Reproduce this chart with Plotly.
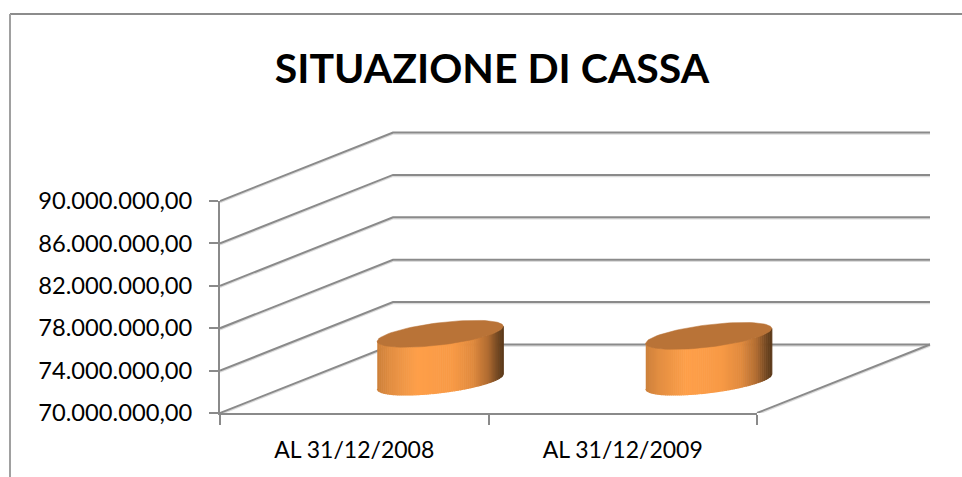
import numpy as np
import plotly.graph_objects as go

# ---- data ----
categories = ["AL 31/12/2008", "AL 31/12/2009"]
values = [74500000, 74300000]
y_ticks = [70000000, 74000000, 78000000, 82000000, 86000000, 90000000]
title_text = "SITUAZIONE DI CASSA"

# ---- layout in pixels ----
W, H = 962, 477
L, R, B, T = 220, 757, 413, 201      # plot front plane
XMIN, XMAX = 0, len(categories)
YMIN, YMAX = 70000000, 90000000
px_x = (XMAX - XMIN) / (R - L)       # data per pixel
px_y = (YMAX - YMIN) / (B - T)
DEPTH_X, DEPTH_Y = 173 * px_x, 68.5 * px_y
BASE_X, BASE_Y = 86 * px_x, 31.5 * px_y
RAD_X, SHEAR, RAD_Y = 63 * px_x, 7.5 * px_y, 11.2 * px_y

# second axis pair shares the same scale, but extends up and right
OV_R, OV_T = 960, 60
ov_xrange = [XMIN, XMIN + (OV_R - L) * px_x]
ov_yrange = [YMIN, YMIN + (B - OV_T) * px_y]

GRID = "#8a8a8a"
SHADOW = "#dcdcdc"
TOP = "#b97337"
STOPS = [(0.0, (205, 128, 58)), (0.1, (226, 142, 66)), (0.32, (255, 160, 74)),
         (0.6, (248, 154, 70)), (0.76, (224, 138, 62)), (0.88, (176, 108, 50)),
         (0.95, (120, 75, 35)), (1.0, (88, 55, 25))]

def shade(t):
    xs = [s[0] for s in STOPS]
    return "rgb(%d,%d,%d)" % tuple(np.interp(t, xs, [s[1][i] for s in STOPS]) for i in range(3))

fig = go.Figure()

# invisible carrier of the data on the main axes
fig.add_trace(go.Scatter(x=[i + 0.5 for i in range(len(values))], y=values, mode="markers",
                         marker=dict(opacity=0, size=1), showlegend=False, hoverinfo="skip"))

def ov_line(xs, ys, color, width):
    fig.add_trace(go.Scatter(x=xs, y=ys, mode="lines", xaxis="x2", yaxis="y2",
                             line=dict(color=color, width=width), showlegend=False,
                             hoverinfo="skip"))

# perspective grid: a soft shadow, then the line
for color, width, off in ((SHADOW, 1.5, 1.5 * px_y), (GRID, 2, 0)):
    for v in y_ticks:
        ov_line([XMIN, XMIN + DEPTH_X, XMAX + DEPTH_X],
                [v - off, v + DEPTH_Y - off, v + DEPTH_Y - off], color, width)
    ov_line([XMAX, XMAX + DEPTH_X], [YMIN - off, YMIN + DEPTH_Y - off], color, width)

# cylinders
N = 64
for i, v in enumerate(values):
    cx = i + 0.5 + BASE_X
    base = YMIN + BASE_Y
    top = base + (v - YMIN)
    edges = np.linspace(-1, 1, N + 1)
    for k in range(N):
        u = np.linspace(edges[k], edges[k + 1], 3)
        xs = cx + RAD_X * u
        arc = RAD_Y * np.sqrt(np.clip(1 - u ** 2, 0, 1))
        y_up = top + SHEAR * u - arc
        y_lo = base + SHEAR * u - arc
        col = shade((k + 0.5) / N)
        fig.add_trace(go.Scatter(
            x=list(xs) + list(xs[::-1]), y=list(y_up) + list(y_lo[::-1]),
            mode="lines", fill="toself", fillcolor=col, line=dict(color=col, width=1.2),
            xaxis="x2", yaxis="y2", showlegend=False, hoverinfo="skip"))
    t = np.linspace(0, 2 * np.pi, 90)
    fig.add_trace(go.Scatter(
        x=cx + RAD_X * np.cos(t), y=top + SHEAR * np.cos(t) + RAD_Y * np.sin(t),
        mode="lines", fill="toself", fillcolor=TOP, line=dict(color=TOP, width=0.5),
        xaxis="x2", yaxis="y2", showlegend=False, hoverinfo="skip"))

FONT = "Lato, Carlito, Calibri, sans-serif"
fig.update_layout(
    width=W, height=H, autosize=False,
    margin=dict(l=0, r=0, t=0, b=0, pad=0, autoexpand=False),
    paper_bgcolor="white", plot_bgcolor="rgba(0,0,0,0)",
    separators=",.",
    showlegend=False,
    font=dict(family=FONT, color="#000000"),
    title=dict(text=title_text, x=492 / W, xanchor="center", y=1 - 69 / H, yanchor="middle",
               font=dict(family=FONT, size=41, color="#000000", weight="bold")),
    xaxis=dict(domain=[L / W, R / W], range=[XMIN, XMAX], anchor="y",
               tickmode="array", tickvals=[i + 0.5 for i in range(len(categories))],
               ticktext=categories, ticks="", showgrid=False, zeroline=False,
               showline=True, linecolor=GRID, linewidth=2,
               minor=dict(tickmode="array", tickvals=list(range(len(categories) + 1)),
                          ticks="outside", ticklen=10, tickcolor=GRID, tickwidth=1.5, showgrid=False),
               tickfont=dict(size=23, family=FONT), ticklabelstandoff=15, fixedrange=True),
    yaxis=dict(domain=[1 - B / H, 1 - T / H], range=[YMIN, YMAX], anchor="x",
               tickmode="array", tickvals=y_ticks, tickformat=",.2f",
               ticks="outside", ticklen=9, tickcolor=GRID, tickwidth=1.5,
               showgrid=False, zeroline=False,
               showline=True, linecolor=GRID, linewidth=2, ticklabelstandoff=12,
               tickfont=dict(size=23.7, family=FONT), fixedrange=True),
    xaxis2=dict(domain=[L / W, OV_R / W], range=ov_xrange, anchor="y2",
                visible=False, fixedrange=True),
    yaxis2=dict(domain=[1 - B / H, 1 - OV_T / H], range=ov_yrange, anchor="x2",
                visible=False, fixedrange=True),
    shapes=[
        dict(type="line", xref="paper", yref="paper", x0=10 / W, x1=1, y0=1 - 14 / H, y1=1 - 14 / H,
             line=dict(color="#8c8c8c", width=2), layer="below"),
        dict(type="line", xref="paper", yref="paper", x0=10 / W, x1=10 / W, y0=0, y1=1 - 14 / H,
             line=dict(color="#a0a0a0", width=2), layer="below"),
    ],
)
fig.write_html("out.html", config=dict(displayModeBar=False),
               post_script="document.body.style.margin='0';document.body.style.overflow='hidden';")
